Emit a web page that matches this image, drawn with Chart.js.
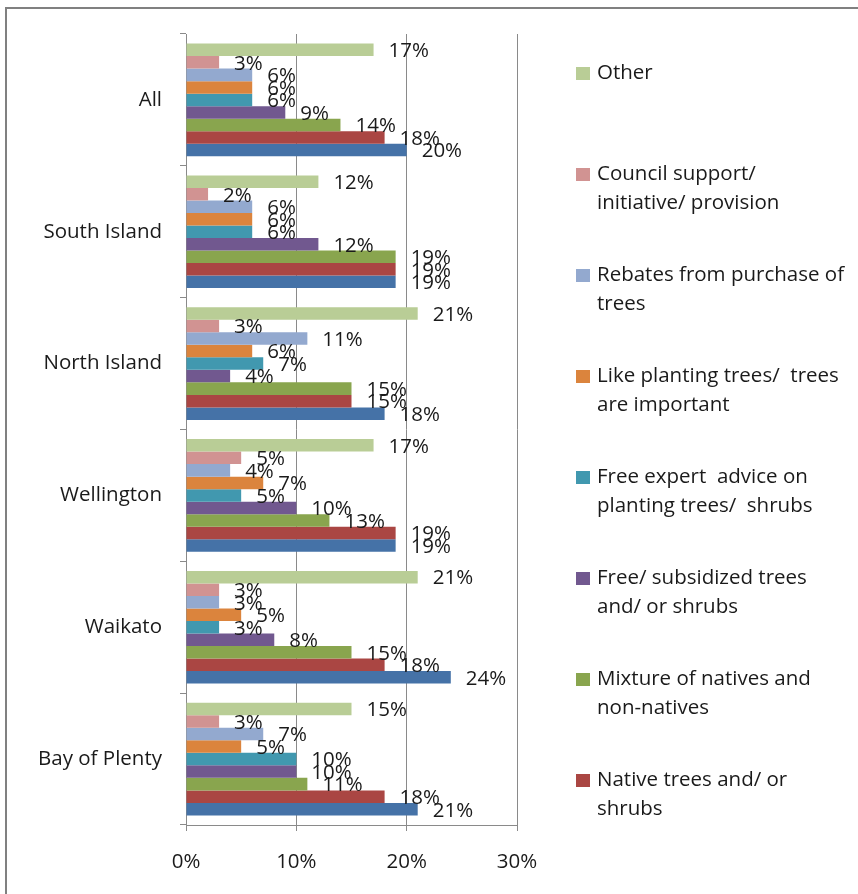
<!DOCTYPE html>
<html>
<head>
<meta charset="utf-8">
<script src="https://cdn.jsdelivr.net/npm/chart.js@4/dist/chart.umd.min.js"></script>
<style>
  html, body { margin: 0; padding: 0; background: #fff; overflow: hidden; }
  #wrap { position: relative; width: 858px; height: 894px; }
</style>
</head>
<body>
<div id="wrap"><canvas id="chart" width="858" height="894"></canvas></div>
<script>
// Regions surveyed
const categories = ['All', 'South Island', 'North Island', 'Wellington', 'Waikato', 'Bay of Plenty'];

// Share of respondents (%) per encouragement type, per region
const other        = [17, 12, 21, 17, 21, 15];
const council      = [3, 2, 3, 5, 3, 3];
const rebates      = [6, 6, 11, 4, 3, 7];
const likePlanting = [6, 6, 6, 7, 5, 5];
const expertAdvice = [6, 6, 7, 5, 3, 10];
const subsidized   = [9, 12, 4, 10, 8, 10];
const mixture      = [14, 19, 15, 13, 15, 11];
const nativeTrees  = [18, 19, 15, 19, 18, 18];
const series9      = [20, 19, 18, 19, 24, 21];

// Series names (line breaks as shown in the legend)
const seriesNames = [
  'Other',
  'Council support/\ninitiative/ provision',
  'Rebates from purchase of\ntrees',
  'Like planting trees/  trees\nare important',
  'Free expert  advice on\nplanting trees/  shrubs',
  'Free/ subsidized trees\nand/ or shrubs',
  'Mixture of natives and\nnon-natives',
  'Native trees and/ or\nshrubs',
  ''
];

// Value-axis tick labels
const xTickValues = [0, 10, 20, 30];
const xTickLabels = ['0%', '10%', '20%', '30%'];

const seriesValues = [other, council, rebates, likePlanting, expertAdvice, subsidized, mixture, nativeTrees, series9];
const seriesColors = ['#B9CD96', '#D19392', '#93A9CF', '#DB843D', '#4198AF', '#71588F', '#89A54E', '#AA4643', '#4572A7'];

const FONT = '"Open Sans", "DejaVu Sans", sans-serif';
const TEXT = '#1a1a1a';
const AXIS = '#8a8a8a';

// Outer frame of the chart object
const framePlugin = {
  id: 'frame',
  beforeDraw(chart) {
    const ctx = chart.ctx;
    ctx.save();
    ctx.fillStyle = '#ffffff';
    ctx.fillRect(0, 0, chart.width, chart.height);
    ctx.strokeStyle = '#808080';
    ctx.lineWidth = 2;
    ctx.strokeRect(6, 8, 920, 920);
    ctx.restore();
  }
};

// Value labels just past the end of each bar
const valueLabelPlugin = {
  id: 'valueLabels',
  afterDatasetsDraw(chart) {
    const ctx = chart.ctx;
    ctx.save();
    ctx.font = '20.5px ' + FONT;
    ctx.fillStyle = TEXT;
    ctx.textAlign = 'left';
    ctx.textBaseline = 'middle';
    chart.data.datasets.forEach((ds, di) => {
      const meta = chart.getDatasetMeta(di);
      meta.data.forEach((bar, i) => {
        ctx.fillText(ds.data[i] + '%', bar.x + 15, bar.y + 1.5);
      });
    });
    ctx.restore();
  }
};

// Legend on the right, one evenly spaced entry per named series
const sideLegendPlugin = {
  id: 'sideLegend',
  afterDraw(chart) {
    const ctx = chart.ctx;
    const x0 = 576, firstY = 73.5, step = 101, lineH = 28.5;
    ctx.save();
    ctx.font = '20.5px ' + FONT;
    ctx.textAlign = 'left';
    ctx.textBaseline = 'middle';
    let n = 0;
    chart.data.datasets.forEach((ds) => {
      if (!ds.label) return;
      const y = firstY + n * step;
      ctx.fillStyle = ds.backgroundColor;
      ctx.fillRect(x0, y - 6.5, 14, 13);
      ctx.fillStyle = TEXT;
      ds.label.split('\n').forEach((line, li) => {
        ctx.fillText(line, x0 + 21, y + li * lineH);
      });
      n++;
    });
    ctx.restore();
  }
};

new Chart(document.getElementById('chart'), {
  type: 'bar',
  data: {
    labels: categories,
    datasets: seriesValues.map((vals, i) => ({
      label: seriesNames[i],
      data: vals,
      backgroundColor: seriesColors[i],
      borderWidth: 0,
      categoryPercentage: 0.855,
      barPercentage: 1.0
    }))
  },
  options: {
    indexAxis: 'y',
    responsive: false,
    animation: false,
    layout: { padding: { top: 34, right: 341, bottom: 0, left: 0 } },
    plugins: {
      legend: { display: false },
      tooltip: { enabled: false }
    },
    scales: {
      x: {
        min: 0,
        max: 30,
        afterBuildTicks(scale) {
          scale.ticks = xTickValues.map(v => ({ value: v }));
        },
        afterFit(scale) { scale.height = 69; },
        ticks: {
          padding: 19,
          color: TEXT,
          font: { family: FONT, size: 20.5 },
          callback: (v) => xTickLabels[xTickValues.indexOf(v)]
        },
        grid: { color: AXIS, lineWidth: 1, tickLength: 6, drawTicks: true },
        border: { color: AXIS, width: 1 }
      },
      y: {
        afterFit(scale) { scale.width = 186; },
        ticks: {
          padding: 18,
          color: TEXT,
          font: { family: FONT, size: 20.5 }
        },
        grid: { drawOnChartArea: false, color: AXIS, tickLength: 6, offset: true },
        border: { color: AXIS, width: 1 }
      }
    }
  },
  plugins: [framePlugin, valueLabelPlugin, sideLegendPlugin]
});
</script>
</body>
</html>
